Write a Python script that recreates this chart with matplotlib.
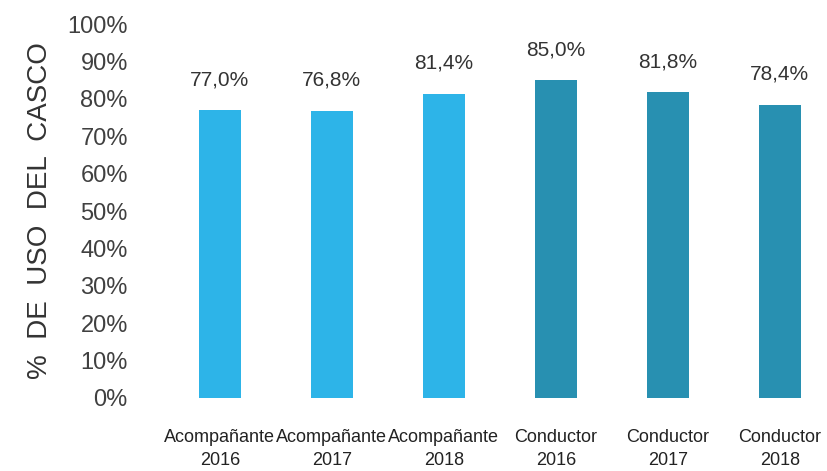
import numpy as np
import matplotlib.pyplot as plt

categorias = ['Acompañante\n2016', 'Acompañante\n2017', 'Acompañante\n2018',
              'Conductor\n2016', 'Conductor\n2017', 'Conductor\n2018']
uso = [77.0, 76.8, 81.4, 85.0, 81.8, 78.4]
colores = ['#2db4e8'] * 3 + ['#2890b1'] * 3

plt.rcParams['font.family'] = ['Liberation Sans', 'DejaVu Sans']

fig = plt.figure(figsize=(8.28, 4.71), dpi=100)
ax = fig.add_axes([0.198, 0.155, 0.802, 0.794])

x = np.arange(len(uso))
bars = ax.bar(x, uso, width=0.37, color=colores)
ax.bar_label(bars, labels=[f'{v:.1f}%'.replace('.', ',') for v in uso],
             padding=15, fontsize=15, color='#333333')

ax.set_xlim(-0.5, 5.43)
ax.set_ylim(0, 100)
ax.set_yticks(np.arange(0, 101, 10))
ax.set_yticklabels([f'{t}%' for t in range(0, 101, 10)])
ax.tick_params(axis='y', length=0, pad=26, labelsize=17, labelcolor='#404040')
ax.set_xticks(x)
ax.set_xticklabels(categorias, linespacing=1.5)
ax.tick_params(axis='x', length=0, pad=22, labelsize=13, labelcolor='#222222')
for s in ax.spines.values():
    s.set_visible(False)

ax.set_ylabel('%  DE  USO  DEL  CASCO', fontsize=20, color='#333333', labelpad=10)

fig.savefig('out.png')
